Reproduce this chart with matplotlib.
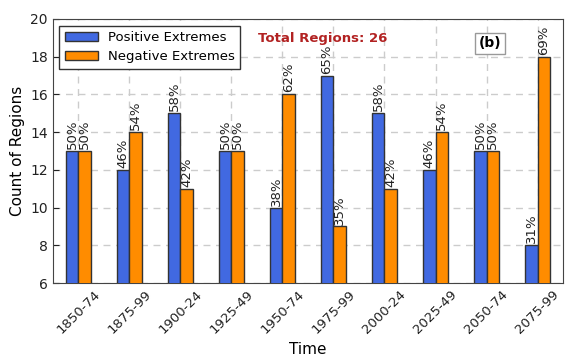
import matplotlib.pyplot as plt
import numpy as np

periods = ["1850-74", "1875-99", "1900-24", "1925-49", "1950-74",
           "1975-99", "2000-24", "2025-49", "2050-74", "2075-99"]
positive = [13, 12, 15, 13, 10, 17, 15, 12, 13, 8]
negative = [13, 14, 11, 13, 16, 9, 11, 14, 13, 18]
total = 26

x = np.arange(len(periods))
w = 0.25

fig = plt.figure(figsize=(5.74, 3.64), dpi=100)
ax = fig.add_axes([0.092, 0.2225, 0.889, 0.7255])

b1 = ax.bar(x - w / 2, positive, w, color="royalblue", edgecolor="#333333",
            linewidth=1, label="Positive Extremes", zorder=3)
b2 = ax.bar(x + w / 2, negative, w, color="darkorange", edgecolor="#333333",
            linewidth=1, label="Negative Extremes", zorder=3)

# percentage labels above each bar
for bars, vals in [(b1, positive), (b2, negative)]:
    for bar, v in zip(bars, vals):
        pct = round(100 * v / total)
        ax.text(bar.get_x() + bar.get_width() / 2, v + 0.1, f"{pct}%",
                rotation=90, ha="center", va="bottom", fontsize=9.5,
                color="#222222")

ax.set_xlim(-0.5, len(periods) - 0.5)
ax.set_ylim(6, 20)
ax.set_yticks(range(6, 21, 2))
ax.set_xticks(x)
ax.set_xticklabels(periods, rotation=45, ha="center", fontsize=9.5)
ax.tick_params(axis="y", labelsize=10)
ax.tick_params(direction="in", length=4, colors="#222222")
ax.grid(True, linestyle=(0, (5, 4)), color="#cccccc", linewidth=1, zorder=0)
for s in ax.spines.values():
    s.set_color("#444444")

ax.set_xlabel("Time", fontsize=11)
ax.set_ylabel("Count of Regions", fontsize=11)

leg = ax.legend(loc="upper left", fontsize=9.5, fancybox=False,
                edgecolor="#333333", framealpha=1, borderpad=0.4,
                handlelength=2.5)
leg.get_frame().set_linewidth(1)

ax.text(0.402, 0.95, f"Total Regions: {total}", transform=ax.transAxes,
        color="firebrick", fontweight="bold", fontsize=9.5, ha="left", va="top")
ax.text(0.835, 0.935, "(b)", transform=ax.transAxes, fontweight="bold",
        fontsize=10, ha="left", va="top",
        bbox=dict(boxstyle="square,pad=0.25", facecolor="white",
                  edgecolor="#999999"))

plt.savefig("out.png", dpi=100)
